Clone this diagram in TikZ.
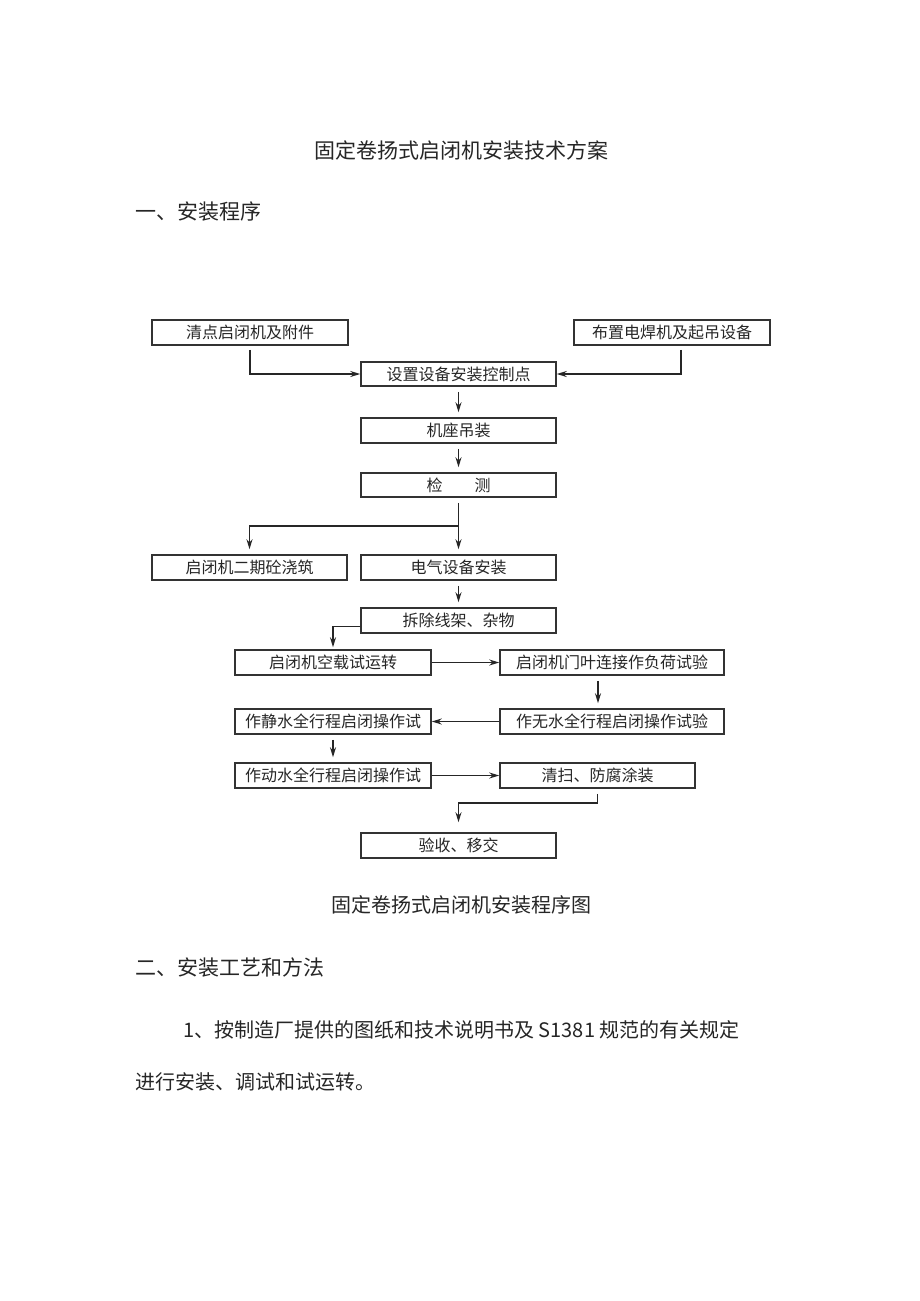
\documentclass[tikz,border=0pt]{standalone}
\usepackage{fontspec}
\setmainfont{Noto Sans CJK SC}
\usetikzlibrary{arrows.meta}
\begin{document}
\begin{tikzpicture}[x=1pt,y=-1pt,
  box/.style={draw=black!80,line width=1.5pt,inner sep=0pt,minimum height=25pt,font=\fontsize{16}{17}\selectfont,text=black!85},
  conn/.style={draw=black!85,line width=1.5pt,-{Stealth[length=10pt,width=6pt]}},
  vconn/.style={conn,shorten <=5pt,shorten >=5pt},
  hd/.style={font=\fontsize{21}{22}\selectfont,text=black!85,inner sep=0pt}]
\useasboundingbox[fill=white] (0,0) rectangle (920,1301);
% texts
\node[hd] (title) at (461.5,150) {固定卷扬式启闭机安装技术方案};
\node[hd,anchor=west] (h1) at (135,212) {一、安装程序};
\node[hd,font=\fontsize{20}{21}\selectfont] (cap) at (461,905) {固定卷扬式启闭机安装程序图};
\node[hd,anchor=west] (h2) at (135,967) {二、安装工艺和方法};
\node[hd,anchor=west,font=\fontsize{20}{21}\selectfont] (p1) at (183,1030) {1、按制造厂提供的图纸和技术说明书及 S1381 规范的有关规定};
\node[hd,anchor=west,font=\fontsize{20}{21}\selectfont] (p2) at (135,1082) {进行安装、调试和试运转。};
% boxes
\node[box,minimum width=196pt] (A) at (250,332.5) {清点启闭机及附件};
\node[box,minimum width=196pt] (B) at (672,332.5) {布置电焊机及起吊设备};
\node[box,minimum width=195pt,minimum height=24pt] (C) at (458.5,374) {设置设备安装控制点};
\node[box,minimum width=195pt] (D) at (458.5,430.5) {机座吊装};
\node[box,minimum width=195pt,minimum height=24pt] (E) at (458.5,485) {检\hspace{2em}测};
\node[box,minimum width=195pt] (F) at (249.5,567.5) {启闭机二期砼浇筑};
\node[box,minimum width=195pt] (G) at (458.5,567.5) {电气设备安装};
\node[box,minimum width=195pt] (H) at (458.5,620.5) {拆除线架、杂物};
\node[box,minimum width=196pt] (I) at (333,662.5) {启闭机空载试运转};
\node[box,minimum width=224pt] (J) at (612,662.5) {启闭机门叶连接作负荷试验};
\node[box,minimum width=196pt] (K) at (333,721.5) {作静水全行程启闭操作试};
\node[box,minimum width=224pt] (L) at (612,721.5) {作无水全行程启闭操作试验};
\node[box,minimum width=196pt] (M) at (333,775.5) {作动水全行程启闭操作试};
\node[box,minimum width=195pt] (N) at (597.5,775.5) {清扫、防腐涂装};
\node[box,minimum width=195pt] (O) at (458.5,845.5) {验收、移交};
% connectors
\draw[conn,shorten <=4pt] (A.south) |- (C.west);
\draw[conn,shorten <=4pt] ([xshift=9pt]B.south) |- (C.east);
\draw[vconn] (C) -- (D);
\draw[vconn] (D) -- (E);
\coordinate (e1) at (458.5,526);
\draw[vconn] (E) -- (G);
\draw[conn,shorten >=5pt] (e1) -| (F.north);
\draw[vconn] (G) -- (H);
\draw[conn,shorten >=2pt] ([yshift=-6pt]H.west) -| (I.north);
\draw[conn] (I) -- (J);
\draw[vconn] ([xshift=-14pt]J.south) -- ([xshift=-14pt]L.north);
\draw[conn] (L) -- (K);
\draw[vconn] (K) -- (M);
\draw[conn] (M) -- (N);
\coordinate (n1) at (597.5,803);
\draw[conn,shorten <=5pt,shorten >=10pt] (N.south) -- (n1) -| (O.north);
\end{tikzpicture}
\end{document}
